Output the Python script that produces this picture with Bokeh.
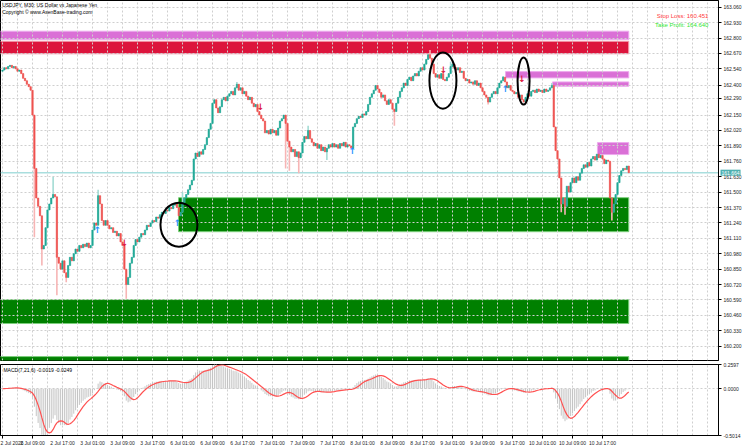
import numpy as np
import pandas as pd
from bokeh.plotting import figure
from bokeh.layouts import column
from bokeh.models import Range1d, FixedTicker, NumeralTickFormatter, Grid, Span, Label
from bokeh.core.properties import value
from bokeh.embed import file_html
from bokeh.resources import INLINE

# ---------------- data ----------------
first_open = 162.52
closes = [
    162.53, 162.55, 162.54, 162.56, 162.57, 162.55, 162.56, 162.54, 162.52, 162.53, 162.50, 162.46,
    162.44, 162.41, 162.39, 162.36, 162.15, 161.70, 161.45, 161.38, 161.30, 161.02, 161.05, 161.20,
    161.35, 161.40, 161.45, 161.48, 161.46, 160.95, 160.90, 160.85, 160.92, 160.82, 160.78, 160.88,
    160.95, 160.92, 160.98, 161.02, 161.00, 161.05, 161.03, 161.06, 161.04, 161.07, 161.03, 161.05,
    161.18, 161.24, 161.22, 161.47, 161.40, 161.26, 161.22, 161.26, 161.22, 161.19, 161.20, 161.16,
    161.17, 161.13, 161.15, 161.08, 161.05, 160.85, 160.72, 160.78, 160.90, 160.95, 161.05, 161.10,
    161.08, 161.12, 161.15, 161.14, 161.18, 161.22, 161.21, 161.24, 161.26, 161.25, 161.29, 161.28,
    161.31, 161.33, 161.32, 161.35, 161.34, 161.37, 161.36, 161.39, 161.40, 161.37, 161.30, 161.33,
    161.41, 161.45, 161.48, 161.52, 161.56, 161.60, 161.78, 161.83, 161.80, 161.84, 161.82, 161.86,
    161.90, 161.96, 162.03, 162.08, 162.25, 162.28, 162.21, 162.17, 162.22, 162.28, 162.30, 162.27,
    162.31, 162.33, 162.35, 162.32, 162.38, 162.41, 162.36, 162.38, 162.33, 162.35, 162.31, 162.28,
    162.30, 162.25, 162.22, 162.24, 162.18, 162.15, 162.12, 162.10, 162.00, 162.02, 161.99, 162.03,
    162.00, 162.02, 161.98, 162.04, 162.10, 162.12, 162.15, 162.08, 161.93, 161.88, 161.84, 161.86,
    161.80, 161.84, 161.79, 161.83, 161.92, 161.97, 161.95, 162.02, 161.95, 161.92, 161.89, 161.91,
    161.87, 161.90, 161.85, 161.88, 161.84, 161.87, 161.90, 161.88, 161.91, 161.88, 161.90, 161.87,
    161.91, 161.89, 161.92, 161.88, 161.90, 161.89, 161.87, 162.05, 162.08, 162.12, 162.14, 162.13,
    162.16, 162.15, 162.18, 162.24, 162.30, 162.33, 162.36, 162.40, 162.37, 162.34, 162.30, 162.32,
    162.27, 162.24, 162.28, 162.25, 162.20, 162.18, 162.25, 162.30, 162.35, 162.38, 162.42, 162.40,
    162.45, 162.47, 162.44, 162.48, 162.50, 162.48, 162.52, 162.55, 162.53, 162.58, 162.62, 162.66,
    162.63, 162.58, 162.50, 162.47, 162.49, 162.46, 162.50, 162.45, 162.44, 162.47, 162.50, 162.56,
    162.58, 162.55, 162.53, 162.55, 162.51, 162.52, 162.46, 162.44, 162.45, 162.42, 162.43, 162.41,
    162.44, 162.40, 162.42, 162.38, 162.35, 162.32, 162.30, 162.26, 162.30, 162.33, 162.35, 162.33,
    162.38, 162.42, 162.44, 162.47, 162.43, 162.38, 162.40, 162.36, 162.35, 162.33, 162.34, 162.30,
    162.32, 162.28, 162.26, 162.30, 162.33, 162.31, 162.35, 162.36, 162.34, 162.37, 162.35, 162.36,
    162.34, 162.37, 162.35, 162.36, 162.38, 162.40, 162.05, 161.85, 161.78, 161.62, 161.40, 161.45,
    161.38, 161.55, 161.50, 161.58, 161.62, 161.58, 161.63, 161.60, 161.66, 161.70, 161.73, 161.71,
    161.75, 161.72, 161.78, 161.80, 161.77, 161.82, 161.79, 161.81, 161.78, 161.74, 161.77, 161.76,
    161.45, 161.33, 161.40, 161.48, 161.58, 161.64, 161.68, 161.70, 161.69, 161.72, 161.664,
]
# wick extremes that reach beyond the candle bodies (bar index -> price)
spike_highs = {27: 161.63, 51: 161.52, 96: 161.50, 125: 162.43, 163: 162.06,
               228: 162.70, 239: 162.60, 267: 162.48, 293: 162.42}
spike_lows = {17: 161.12, 21: 160.88, 29: 160.63, 34: 160.74, 66: 160.60, 151: 161.70,
              153: 161.68, 158: 161.66, 173: 161.77, 209: 162.06, 259: 162.24,
              298: 161.33, 300: 161.31, 325: 161.26}

price_ticks = [163.060, 162.930, 162.800, 162.670, 162.540, 162.400, 162.290, 162.150,
               162.020, 161.890, 161.760, 161.630, 161.500, 161.370, 161.240, 161.110,
               160.980, 160.850, 160.720, 160.590, 160.460, 160.330, 160.200]
time_labels = ["2 Jul 2026", "2 Jul 09:00", "2 Jul 17:00", "3 Jul 01:00", "3 Jul 09:00",
               "3 Jul 17:00", "6 Jul 01:00", "6 Jul 09:00", "6 Jul 17:00", "7 Jul 01:00",
               "7 Jul 09:00", "7 Jul 17:00", "8 Jul 01:00", "8 Jul 09:00", "8 Jul 17:00",
               "9 Jul 01:00", "9 Jul 09:00", "9 Jul 17:00", "10 Jul 01:00", "10 Jul 09:00",
               "10 Jul 17:00"]
bars_per_label = 16
bars_per_grid = 8

# supply / demand zones
zone_left = [-2, -2, 268.3, 293.3, 317.3, 93.9, -2, -2]
zone_right = [334, 334, 334, 334, 334, 334, 334, 334]
zone_top = [162.858, 162.773, 162.517, 162.430, 161.918, 161.453, 160.593, 160.112]
zone_bottom = [162.787, 162.667, 162.464, 162.393, 161.817, 161.166, 160.391, 160.020]
zone_kind = ["supply", "sl", "supply", "supply", "supply", "demand", "demand", "demand"]

# signal arrows
up_arrow_x = [50.7, 93.3, 186.7, 268.3]
up_arrow_y = [161.22, 161.28, 161.89, 162.415]
dn_arrow_x = [65.1, 137.6, 235.2, 277.1]
dn_arrow_y = [161.03, 162.18, 162.49, 162.41]

# hand drawn ellipses
ell_x = [94.1, 234.9, 277.9]
ell_y = [161.225, 162.441, 162.437]
ell_w = [19.7, 14.4, 6.4]
ell_h = [0.371, 0.473, 0.397]

current_price = 161.664
stop_loss = 160.451
take_profit = 164.640
macd_params = (7, 21, 6)
macd_last = (-0.0019, -0.0249)
macd_ticks = [-0.5014, 0.0, 0.2597]

# ---------------- derived ----------------
n = len(closes)
idx = np.arange(n)
opens = [first_open] + closes[:-1]
tops = [max(o, c) for o, c in zip(opens, closes)]
bots = [min(o, c) for o, c in zip(opens, closes)]
highs = list(tops)
lows = list(bots)
for k, v in spike_highs.items():
    highs[k] = max(highs[k], v)
for k, v in spike_lows.items():
    lows[k] = min(lows[k], v)
is_up = [c >= o for o, c in zip(opens, closes)]

UP, DN = "#1fa896", "#ef5350"
UP_W, DN_W = "#a3dcd4", "#f7b5b5"
body_col = [UP if u else DN for u in is_up]
wick_col = [UP_W if u else DN_W for u in is_up]

zone_fill = {"supply": "#da70d6", "sl": "#dc143c", "demand": "#008000"}
zone_line = {"supply": "#eeaaee", "sl": "#f4a0b0", "demand": "#7ccf7c"}

PX_PER_BAR = 1.875
xr = Range1d(-2 / PX_PER_BAR, 716 / PX_PER_BAR)
FONT = "Liberation Sans"
GRID_COL = "#cfcfcf"

# ---------------- main price panel ----------------
p = figure(frame_width=718, frame_height=360, x_range=xr, y_range=Range1d(160.079, 163.117),
           y_axis_location="right", x_axis_location=None, toolbar_location=None,
           output_backend="svg", min_border_left=0, min_border_top=0, min_border_bottom=1,
           min_border_right=25, outline_line_color="black", background_fill_color="white",
           border_fill_color="white")

ya = p.yaxis[0]
ya.ticker = FixedTicker(ticks=price_ticks)
ya.formatter = NumeralTickFormatter(format="0.000")
ya.major_label_text_font = FONT
ya.major_label_text_font_size = "5px"
ya.major_label_text_color = "#222222"
ya.major_tick_out = 3
ya.major_tick_in = 0
ya.minor_tick_out = 0
ya.minor_tick_in = 0
ya.major_label_standoff = 2
ya.axis_line_color = "black"

p.ygrid.grid_line_color = GRID_COL
p.ygrid.grid_line_dash = "2 2"
p.ygrid.level = "underlay"
p.xgrid.visible = False
vgrid_ticks = list(range(0, 384, bars_per_grid))
vg = Grid(dimension=0, ticker=FixedTicker(ticks=vgrid_ticks), grid_line_color=GRID_COL,
          grid_line_dash="2 2", level="underlay")
p.add_layout(vg)

p.quad(left=zone_left, right=zone_right, top=zone_top, bottom=zone_bottom,
       fill_color=[zone_fill[k] for k in zone_kind],
       line_color=[zone_line[k] for k in zone_kind], line_width=1, level="image")

p.add_layout(Span(location=current_price, dimension="width", line_color="#a9dede",
                  line_width=1.5, level="underlay"))

p.segment(x0=idx, y0=lows, x1=idx, y1=highs, line_color=wick_col, line_width=1.6)
p.vbar(x=idx, width=0.7, top=tops, bottom=bots, fill_color=body_col, line_color=body_col,
       line_width=0.6)

p.text(x=up_arrow_x, y=up_arrow_y, text=["↑"] * len(up_arrow_x), text_color="#1e90ff",
       text_font=value("DejaVu Sans"), text_font_size="9px", text_font_style="bold",
       text_align="center", text_baseline="top")
p.text(x=dn_arrow_x, y=dn_arrow_y, text=["↓"] * len(dn_arrow_x), text_color="#dc143c",
       text_font=value("DejaVu Sans"), text_font_size="9px", text_font_style="bold",
       text_align="center", text_baseline="bottom")

p.ellipse(x=ell_x, y=ell_y, width=ell_w, height=ell_h, fill_alpha=0, line_color="black",
          line_width=2)

p.add_layout(Label(x=-0.2, y=163.080, text="USDJPY, M30:  US Dollar vs Japanese Yen",
                   text_font=FONT, text_font_size="5px", text_color="black",
                   text_baseline="middle"))
p.add_layout(Label(x=-0.2, y=163.021, text="Copyright © www.AsenBase-trading.com",
                   text_font=FONT, text_font_size="5px", text_color="black",
                   text_baseline="middle"))
p.add_layout(Label(x=376.5, y=162.990, text=f"Stop Loss: {stop_loss:.3f}",
                   text_font=FONT, text_font_size="6px", text_color="#ff4040",
                   text_align="right", text_baseline="middle"))
p.add_layout(Label(x=376.5, y=162.914, text=f"Take Profit: {take_profit:.3f}",
                   text_font=FONT, text_font_size="6px", text_color="#33e633",
                   text_align="right", text_baseline="middle"))
# current price tag, placed in the right-hand (price scale) panel
p.add_layout(Label(x=(720 - 2) / PX_PER_BAR, y=current_price, text=f"{current_price:.3f}",
                   text_font=FONT, text_font_size="5px", text_color="white",
                   text_baseline="middle", background_fill_color="#4fb0b0",
                   padding=1), "right")

# ---------------- MACD panel ----------------
s = pd.Series(closes)
ema_fast = s.ewm(span=macd_params[0], adjust=False).mean()
ema_slow = s.ewm(span=macd_params[1], adjust=False).mean()
macd = (ema_fast - ema_slow).to_numpy()
signal = pd.Series(macd).rolling(macd_params[2], min_periods=1).mean().to_numpy()

p2 = figure(frame_width=718, frame_height=71, x_range=xr, y_range=Range1d(-0.5014, 0.2597),
            y_axis_location="right", toolbar_location=None, output_backend="svg",
            min_border_left=0, min_border_top=3, min_border_bottom=11, min_border_right=25,
            outline_line_color="black", background_fill_color="white", border_fill_color="white")

ya2 = p2.yaxis[0]
ya2.ticker = FixedTicker(ticks=macd_ticks)
ya2.formatter = NumeralTickFormatter(format="0.0000")
ya2.major_label_text_font = FONT
ya2.major_label_text_font_size = "5px"
ya2.major_label_text_color = "#222222"
ya2.major_tick_out = 3
ya2.major_tick_in = 0
ya2.minor_tick_out = 0
ya2.minor_tick_in = 0
ya2.major_label_standoff = 2
ya2.axis_line_color = "black"

xa = p2.xaxis[0]
label_ticks = [i * bars_per_label for i in range(len(time_labels))]
xa.ticker = FixedTicker(ticks=label_ticks)
xa.major_label_overrides = {t: lbl for t, lbl in zip(label_ticks, time_labels)}
xa.major_label_text_font = FONT
xa.major_label_text_font_size = "5px"
xa.major_label_text_color = "#222222"
xa.major_label_text_align = "left"
xa.major_tick_out = 3
xa.major_tick_in = 0
xa.minor_tick_out = 0
xa.minor_tick_in = 0
xa.major_label_standoff = 1
xa.axis_line_color = "black"

p2.ygrid.grid_line_color = GRID_COL
p2.ygrid.grid_line_dash = "2 2"
p2.xgrid.visible = False
vg2 = Grid(dimension=0, ticker=FixedTicker(ticks=vgrid_ticks), grid_line_color=GRID_COL,
           grid_line_dash="2 2", level="underlay")
p2.add_layout(vg2)

p2.segment(x0=idx, y0=np.zeros(n), x1=idx, y1=macd, line_color="#c4c4c4", line_width=1)
p2.line(idx, signal, line_color="#ff5050", line_width=1.2)
p2.add_layout(Label(x=0.5, y=0.205,
                    text=f"MACD({macd_params[0]},{macd_params[1]},{macd_params[2]}) "
                         f"{macd_last[0]:.4f} {macd_last[1]:.4f}",
                    text_font=FONT, text_font_size="5px", text_color="black",
                    text_baseline="middle"))

layout = column(p, p2, spacing=0)
open("out.html", "w").write(file_html(layout, INLINE))
